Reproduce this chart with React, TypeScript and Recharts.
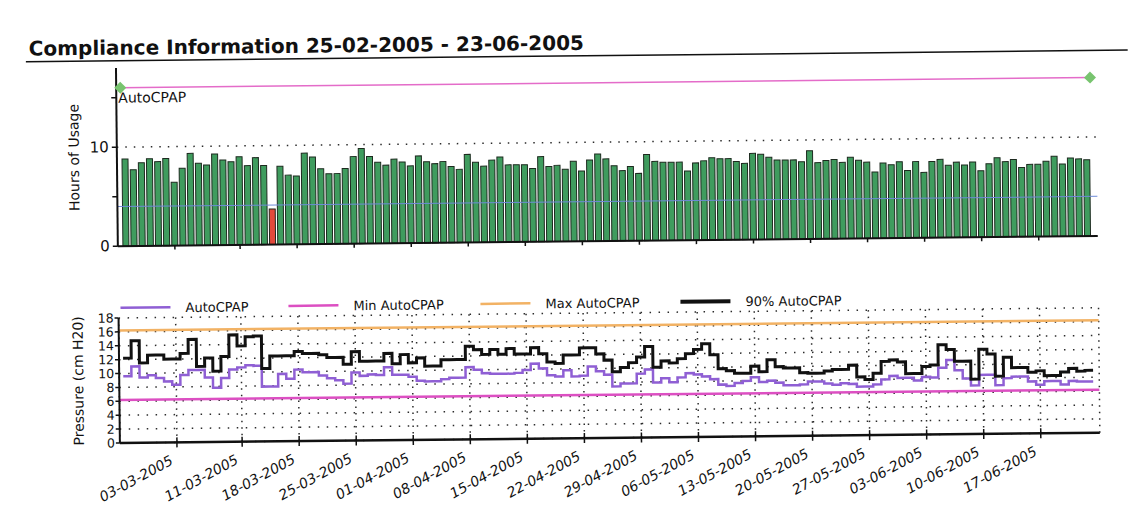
import {
  ComposedChart,
  Bar,
  Cell,
  Line,
  XAxis,
  YAxis,
  CartesianGrid,
  ReferenceLine,
  ReferenceDot,
} from 'recharts';

// nightly usage in hours, one entry per night starting 25-02-2005
const usageHours = [
  8.8, 7.7, 8.4, 8.8, 8.5, 8.8, 6.4, 7.8, 9.3, 8.3,
  8.1, 9.2, 8.6, 8.4, 8.9, 8.0, 8.8, 8.0, 3.6, 7.9,
  7.0, 6.9, 9.2, 8.8, 7.6, 7.1, 7.1, 7.6, 8.8, 9.6,
  8.8, 8.2, 7.9, 8.5, 8.2, 7.8, 8.8, 8.2, 8.0, 8.2,
  7.7, 7.4, 8.9, 8.1, 7.7, 8.3, 8.6, 7.8, 7.8, 7.8,
  7.4, 8.6, 7.6, 7.7, 7.3, 8.1, 7.1, 8.2, 8.8, 8.3,
  7.6, 7.1, 7.5, 6.8, 8.7, 8.0, 7.9, 7.9, 7.9, 7.0,
  7.8, 8.0, 8.3, 8.2, 8.2, 7.9, 7.7, 8.7, 8.6, 8.3,
  8.0, 8.0, 8.0, 7.8, 8.9, 7.7, 7.9, 8.0, 7.7, 8.2,
  7.9, 7.7, 6.7, 7.6, 7.4, 7.7, 6.8, 7.7, 6.6, 7.7,
  7.9, 7.3, 7.6, 7.3, 7.6, 6.7, 7.4, 8.0, 7.6, 7.8,
  7.0, 7.3, 7.3, 7.6, 8.1, 7.3, 7.9, 7.8, 7.7,
];

// AutoCPAP (median) pressure per night, cm H2O
const autoPressure = [
  9.6, 11.0, 9.4, 9.7, 9.3, 8.8, 8.3, 9.7, 10.4, 10.4,
  9.3, 7.8, 9.2, 10.4, 10.7, 11.0, 10.9, 7.9, 7.9, 9.7,
  9.0, 10.3, 9.9, 9.9, 9.4, 9.0, 8.7, 8.2, 9.8, 9.3,
  9.5, 9.4, 10.5, 9.4, 9.4, 9.1, 8.5, 8.4, 8.4, 8.7,
  8.9, 8.9, 10.4, 10.0, 9.5, 9.4, 9.4, 9.4, 9.5, 9.9,
  10.8, 10.1, 9.1, 8.9, 9.8, 8.9, 9.0, 10.3, 9.6, 9.1,
  7.4, 7.8, 7.8, 9.2, 9.8, 7.9, 8.5, 7.9, 8.6, 9.2,
  9.0, 8.7, 8.3, 7.5, 7.3, 7.7, 8.0, 8.5, 7.8, 8.0,
  7.7, 7.3, 7.3, 7.4, 7.8, 7.8, 7.5, 7.3, 7.5, 7.4,
  7.0, 7.0, 7.3, 8.0, 8.5, 8.2, 8.2, 7.8, 8.3, 8.2,
  9.6, 10.7, 9.2, 8.0, 7.0, 8.5, 8.5, 7.0, 8.0, 8.2,
  8.2, 7.5, 7.0, 7.5, 7.5, 7.0, 7.5, 7.4, 7.4,
];

// 90th percentile pressure per night, cm H2O
const p90Pressure = [
  12.2, 14.7, 11.5, 12.6, 12.6, 12.0, 12.0, 12.8, 14.8, 10.9,
  12.1, 10.2, 12.3, 15.4, 13.8, 15.1, 15.2, 10.5, 12.3, 12.3,
  12.3, 12.9, 12.6, 12.6, 12.4, 12.0, 12.0, 11.0, 12.8, 11.4,
  11.4, 11.4, 12.5, 11.0, 12.3, 11.1, 11.8, 10.6, 10.6, 11.5,
  11.5, 11.5, 13.4, 12.9, 12.2, 12.9, 12.2, 13.0, 12.2, 12.2,
  13.1, 12.2, 11.0, 10.8, 12.0, 12.0, 13.0, 13.0, 12.1, 11.2,
  9.5, 10.1, 10.8, 11.6, 13.1, 10.1, 11.0, 10.7, 11.3, 12.0,
  12.6, 13.4, 11.8, 9.8, 9.5, 9.1, 9.1, 10.1, 9.3, 11.0,
  10.0, 9.8, 9.8, 9.1, 9.0, 9.0, 9.3, 9.5, 9.5, 10.1,
  8.4, 8.0, 8.9, 10.6, 10.8, 10.5, 8.8, 8.8, 9.8, 10.0,
  12.9, 12.2, 10.5, 10.5, 7.9, 12.2, 11.5, 8.3, 11.0, 9.5,
  9.5, 8.8, 9.0, 8.3, 8.3, 8.8, 9.3, 8.9, 9.0,
];

const minPressure = 6.2;
const maxPressure = 16.2;
const usageLimit = 4;
const modeLevel = 16;

const dateTicks = [6, 14, 21, 28, 35, 42, 49, 56, 63, 70, 77, 84, 91, 98, 105, 112];
const dateLabels = [
  '03-03-2005', '11-03-2005', '18-03-2005', '25-03-2005', '01-04-2005', '08-04-2005',
  '15-04-2005', '22-04-2005', '29-04-2005', '06-05-2005', '13-05-2005', '20-05-2005',
  '27-05-2005', '03-06-2005', '10-06-2005', '17-06-2005',
];

const usageTicks = [0, 5, 10, 15];
const usageTickLabels = ['0', '', '10', 'AutoCPAP'];
const pressureTicks = [0, 2, 4, 6, 8, 10, 12, 14, 16, 18];

const FONT = '"DejaVu Sans", Verdana, sans-serif';
const X_DOMAIN: [number, number] = [-1, 119.25];
const lastDay = usageHours.length - 1;

const usageRows = usageHours.map((hours, day) => ({ day, hours }));

// step series: a point at the start of each night, plus one closing point
const pressureRows = [
  ...autoPressure.map((auto, i) => ({ day: i - 0.5, auto, p90: p90Pressure[i] })),
  { day: lastDay + 0.5, auto: autoPressure[lastDay], p90: p90Pressure[lastDay] },
];

const COLORS = {
  bar: '#3f9c5e',
  barLow: '#e2493b',
  barEdge: '#1d2a1f',
  auto: '#8f5fd4',
  min: '#dc4fc2',
  max: '#f2b264',
  p90: '#111111',
  mode: '#e46cc9',
  diamond: '#78c46f',
  limit: '#6d8ad6',
  grid: '#2b2b2b',
};

const legendItems = [
  { name: 'AutoCPAP', color: COLORS.auto, width: 2.5, x: 120 },
  { name: 'Min AutoCPAP', color: COLORS.min, width: 2.5, x: 288 },
  { name: 'Max AutoCPAP', color: COLORS.max, width: 2.5, x: 480 },
  { name: '90% AutoCPAP', color: COLORS.p90, width: 4, x: 680 },
];

function UsageTick({ x, y, payload }: any) {
  const label = usageTickLabels[usageTicks.indexOf(payload.value)];
  if (!label) return <g />;
  const inside = isNaN(Number(label));
  return (
    <text
      x={inside ? x + 10 : x}
      y={y}
      dy={5}
      textAnchor={inside ? 'start' : 'end'}
      fontSize={inside ? 14 : 15}
      fontFamily={FONT}
      fill="#111"
    >
      {label}
    </text>
  );
}

function DateTick({ x, y, payload }: any) {
  const label = dateLabels[dateTicks.indexOf(payload.value)];
  const tx = x - 3;
  const ty = y + 21;
  return (
    <g>
      <line x1={x} x2={x} y1={y - 5} y2={y + 5} stroke="#111" strokeWidth={1.5} />
      <text
        x={tx}
        y={ty}
        textAnchor="end"
        fontSize={14}
        fontStyle="italic"
        fontFamily={FONT}
        fill="#111"
        transform={`rotate(-28 ${tx} ${ty})`}
      >
        {label}
      </text>
    </g>
  );
}

function Diamond({ cx, cy }: any) {
  const r = 6;
  return (
    <polygon
      points={`${cx},${cy - r} ${cx + r},${cy} ${cx},${cy + r} ${cx - r},${cy}`}
      fill={COLORS.diamond}
    />
  );
}

function Header() {
  return (
    <svg width={1130} height={320} style={{ position: 'absolute', left: 0, top: 0 }}>
      <text x={31} y={50} fontSize={20} fontWeight="bold" fontFamily={FONT} fill="#111">
        Compliance Information 25-02-2005 - 23-06-2005
      </text>
      <line x1={28} x2={1130} y1={56} y2={56} stroke="#111" strokeWidth={1.5} />
      {legendItems.map((item) => (
        <g key={item.name}>
          <line
            x1={item.x}
            x2={item.x + 50}
            y1={303}
            y2={303}
            stroke={item.color}
            strokeWidth={item.width}
          />
          <text x={item.x + 65} y={308} fontSize={13} fontFamily={FONT} fill="#111">
            {item.name}
          </text>
        </g>
      ))}
    </svg>
  );
}

export default function App() {
  return (
    <div
      style={{
        position: 'absolute',
        left: 0,
        top: 0,
        width: 1130,
        height: 519,
        background: '#fff',
        fontFamily: FONT,
        transform: 'rotate(-0.6deg)',
        transformOrigin: '565px 259.5px',
      }}
    >
      <Header />

      <div style={{ position: 'absolute', left: 0, top: 0 }}>
        <ComposedChart
          width={1130}
          height={262}
          data={usageRows}
          margin={{ top: 63.3, right: 32, bottom: 0.5, left: 78 }}
        >
          <XAxis
            dataKey="day"
            type="number"
            domain={X_DOMAIN}
            ticks={dateTicks}
            tickFormatter={() => ''}
            tickSize={4}
            height={20}
            axisLine={{ stroke: '#111', strokeWidth: 2 }}
            tickLine={{ stroke: '#111', strokeWidth: 1.5 }}
          />
          <YAxis
            type="number"
            domain={[0, 18]}
            ticks={usageTicks}
            width={40}
            tickSize={5}
            tickMargin={3}
            tick={<UsageTick />}
            axisLine={{ stroke: '#111', strokeWidth: 2 }}
            tickLine={{ stroke: '#111', strokeWidth: 1.5 }}
            label={{
              value: 'Hours of Usage',
              angle: -90,
              position: 'center',
              dx: -23,
              fontSize: 14,
              fontFamily: FONT,
              fill: '#111',
            }}
          />
          <ReferenceLine y={10} stroke={COLORS.grid} strokeWidth={1.5} strokeDasharray="1.5 7" />
          <ReferenceLine y={usageLimit} stroke={COLORS.limit} strokeWidth={1} />
          <Bar dataKey="hours" barSize={6} stroke={COLORS.barEdge} strokeWidth={1} isAnimationActive={false}>
            {usageRows.map((row) => (
              <Cell key={row.day} fill={row.hours < usageLimit ? COLORS.barLow : COLORS.bar} />
            ))}
          </Bar>
          <ReferenceLine
            segment={[
              { x: -0.5, y: modeLevel },
              { x: lastDay + 0.5, y: modeLevel },
            ]}
            stroke={COLORS.mode}
            strokeWidth={1.5}
          />
          <ReferenceDot x={-0.5} y={modeLevel} r={6} shape={<Diamond />} />
          <ReferenceDot x={lastDay + 0.5} y={modeLevel} r={6} shape={<Diamond />} />
        </ComposedChart>
      </div>

      <div style={{ position: 'absolute', left: 0, top: 280 }}>
        <ComposedChart
          width={1130}
          height={239}
          data={pressureRows}
          margin={{ top: 33.3, right: 32, bottom: 20.7, left: 78 }}
        >
          <CartesianGrid vertical={false} stroke={COLORS.grid} strokeWidth={1.5} strokeDasharray="1.5 7.5" />
          <CartesianGrid horizontal={false} stroke={COLORS.grid} strokeWidth={1.5} strokeDasharray="1.5 5" />
          <XAxis
            dataKey="day"
            type="number"
            domain={X_DOMAIN}
            ticks={dateTicks}
            tick={<DateTick />}
            tickLine={false}
            tickSize={0}
            tickMargin={0}
            height={60}
            axisLine={{ stroke: '#111', strokeWidth: 2.5 }}
          />
          <YAxis
            type="number"
            domain={[0, 18]}
            ticks={pressureTicks}
            interval={0}
            width={40}
            tickSize={4}
            tickMargin={1}
            tick={{ fontSize: 12.5, fontFamily: FONT, fill: '#111' }}
            axisLine={{ stroke: '#111', strokeWidth: 2 }}
            tickLine={{ stroke: '#111', strokeWidth: 1.5 }}
            label={{
              value: 'Pressure (cm H20)',
              angle: -90,
              position: 'center',
              dx: -21,
              fontSize: 14,
              fontFamily: FONT,
              fill: '#111',
            }}
          />
          <ReferenceLine y={maxPressure} stroke={COLORS.max} strokeWidth={2.5} />
          <ReferenceLine y={minPressure} stroke={COLORS.min} strokeWidth={2.5} />
          <Line
            type="stepAfter"
            dataKey="auto"
            stroke={COLORS.auto}
            strokeWidth={2.5}
            dot={false}
            isAnimationActive={false}
          />
          <Line
            type="stepAfter"
            dataKey="p90"
            stroke={COLORS.p90}
            strokeWidth={3}
            dot={false}
            isAnimationActive={false}
          />
        </ComposedChart>
      </div>
    </div>
  );
}
